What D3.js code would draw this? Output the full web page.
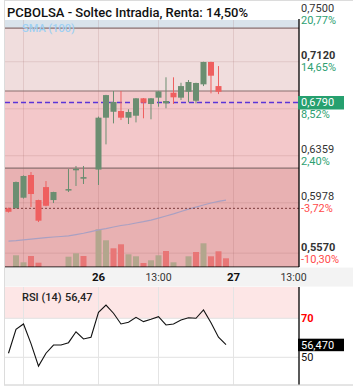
<!DOCTYPE html>
<html><head><meta charset="utf-8">
<script src="https://cdn.jsdelivr.net/npm/d3@7"></script>
<style>
html,body{margin:0;padding:0;background:#fff;}
svg{display:block;font-family:Roboto,"Noto Sans",sans-serif;}
</style></head><body>
<svg id="c" width="353" height="390"></svg>
<script>
// ---------------- DATA ----------------
const title = "PCBOLSA - Soltec Intradia, Renta: 14,50%";
const candleTimes = ["25 12:00","25 12:30","25 13:00","25 13:30","25 14:00","25 14:30","25 15:00","25 16:00","25 16:30","25 17:00",
  "26 09:00","26 09:30","26 10:00","26 10:30","26 11:00","26 11:30","26 12:00","26 12:30","26 13:00","26 13:30",
  "26 14:00","26 14:30","26 15:00","26 15:30","26 16:00","26 16:30","26 17:00","26 17:30"];
const opens  = [0.5933,0.5935,0.6019,0.6203,0.6000,0.6105,0.6000,0.6087,0.6251,0.6173,
  0.6247,0.6667,0.6715,0.6721,0.6667,0.6683,0.6824,0.6778,0.6829,0.6783,
  0.6869,0.6829,0.6877,0.6804,0.6937,0.7118,0.6923,0.6790];
const highs  = [0.5939,0.6150,0.6200,0.6227,0.6003,0.6154,0.6067,0.6251,0.6276,0.6276,
  0.6676,0.6852,0.6883,0.6883,0.6735,0.6826,0.6826,0.6826,0.6882,0.6994,
  0.6994,0.6950,0.6972,0.6950,0.7120,0.7120,0.7085,0.6790];
const lows   = [0.5899,0.5930,0.6012,0.5944,0.5822,0.5950,0.5976,0.6065,0.6114,0.6130,
  0.6122,0.6451,0.6621,0.6648,0.6616,0.6629,0.6662,0.6654,0.6756,0.6743,
  0.6778,0.6810,0.6791,0.6783,0.6923,0.6864,0.6858,0.6790];
const closes = [0.5905,0.6146,0.6195,0.6049,0.5833,0.5954,0.6065,0.6089,0.6253,0.6186,
  0.6667,0.6850,0.6794,0.6667,0.6713,0.6824,0.6788,0.6824,0.6880,0.6802,
  0.6832,0.6923,0.6956,0.6948,0.7118,0.7007,0.6877,0.6790];

const volTimes = ["25 12:30","25 13:00","25 13:30","25 14:00","25 16:00","25 16:30","25 17:00",
  "26 09:00","26 09:30","26 10:00","26 10:30","26 11:00","26 11:30","26 12:00","26 12:30","26 13:00","26 13:30","26 14:00",
  "26 15:00","26 15:30","26 16:00","26 16:30","26 17:00","26 17:30"];
const volumes = [11700,4700,11000,4300,10300,13700,11000,
  37700,26700,18700,22700,12700,10700,4000,6700,11700,16000,4700,
  10700,15000,23700,10700,15700,8700];
const volUp = [1,1,0,0,1,1,0, 1,1,0,0,1,1,0,1,1,0,1, 1,0,1,0,0,0];

const lineTimes = ["25 12:00","25 12:30","25 13:00","25 13:30","25 14:00","25 14:30","25 15:00","25 15:30","25 16:00","25 16:30","25 17:00","25 17:30",
  "26 09:00","26 09:30","26 10:00","26 10:30","26 11:00","26 11:30","26 12:00","26 12:30","26 13:00","26 13:30",
  "26 14:00","26 14:30","26 15:00","26 15:30","26 16:00","26 16:30","26 17:00","26 17:30"];
const smaValues = [0.5668,0.5672,0.5678,0.5684,0.5690,0.5696,0.5701,0.5705,0.5710,0.5720,0.5731,0.5745,
  0.5759,0.5769,0.5782,0.5794,0.5802,0.5814,0.5825,0.5838,0.5854,0.5871,
  0.5888,0.5907,0.5927,0.5943,0.5960,0.5976,0.5990,0.6000];
const rsiValues = [52.1,64.4,67.1,57.0,45.5,52.1,56.3,56.3,57.5,63.1,59.4,60.3,
  73.1,76.8,72.6,67.1,68.0,70.5,68.3,69.5,70.8,66.6,
  67.1,69.1,70.3,70.0,74.3,67.7,60.3,56.47];

const gridPrices = [0.7500,0.7120,0.6739,0.6359,0.5978,0.5570];
const gridPriceLabels = ["0,7500","0,7120","","0,6359","0,5978","0,5570"];
const gridPctLabels = ["20,77%","14,65%","8,52%","2,40%","-3,72%","-10,30%"];
const gridBold = [false,true,false,false,false,true];
const bandLevels = [0.7393,0.6883,0.6259];
const bandColors = ["#d9e3eb","#f0dddd","#f3c8ca","#e8b1b2"];
const prevClose = 0.5933;
const lastPrice = 0.6790, lastPriceLabel = "0,6790";
const rsiLevels = [70,50], rsiLevelLabels = ["70","50"];
const rsiLast = 56.47, rsiLastLabel = "56,470", rsiTitle = "RSI (14)", rsiTitleValue = "56,47";
const smaLabel = "SMA (100)";
const tickTimes = ["25 13:00","26 09:00","26 13:00","27 09:00","27 13:00"];
const tickLabels = ["","26","13:00","27","13:00"];
const tickBold = [false,true,false,true,false];

// ---------------- CHART ----------------
const svg = d3.select("#c");
const L = 5, R = 299, T = 20, B = 267;
const rT = 287, rB = 385;
function tIdx(s){const [d,hm]=s.split(" ");const [h,m]=hm.split(":").map(Number);return (+d-25)*9+h+m/60-9;}
const x = d3.scaleLinear().domain([2.7667,22.3667]).range([L,R]);
const y = d3.scaleLinear().domain([0.5458,0.7458]).range([B,T]);
const yv = d3.scaleLinear().domain([0,100000]).range([B,B-100]);
const yr = d3.scaleLinear().domain([35.8,86.05]).range([rB,rT]);

// frame
svg.append("rect").attr("x",4.5).attr("y",0.5).attr("width",360).attr("height",rB-0.5)
  .attr("fill","#fff").attr("stroke","#dcdcdc");
// title
svg.append("text").attr("x",7).attr("y",17).attr("font-size",13).attr("font-weight",500)
  .attr("fill","#111").text(title);

// bands
const bandEdges = [y.domain()[1], ...bandLevels, y.domain()[0]];
const g = svg.append("g");
bandColors.forEach((c,i)=>{
  g.append("rect").attr("x",L).attr("width",R-L)
   .attr("y",y(bandEdges[i])).attr("height",y(bandEdges[i+1])-y(bandEdges[i])).attr("fill",c);
});
// grid
gridPrices.forEach(p=>{ if(y(p)>T+1 && y(p)<B-1)
  g.append("line").attr("x1",L).attr("x2",R).attr("y1",y(p)).attr("y2",y(p))
   .attr("stroke","rgba(150,90,90,0.16)").attr("stroke-width",1);});
tickTimes.forEach(t=>{const xx=x(tIdx(t)); if(xx>L && xx<R-8)
  g.append("line").attr("x1",xx).attr("x2",xx).attr("y1",T).attr("y2",B)
   .attr("stroke","rgba(150,90,90,0.16)").attr("stroke-width",1);});
// level lines
bandLevels.forEach(p=>g.append("line").attr("x1",L).attr("x2",R).attr("y1",y(p)).attr("y2",y(p))
  .attr("stroke","#8a6f6f").attr("stroke-width",1.2));
// SMA legend
g.append("text").attr("x",22).attr("y",32).attr("font-size",11).attr("font-weight",500)
  .attr("fill","#9fd0f3").text(smaLabel);

// volume
g.selectAll(".v").data(volumes).enter().append("rect")
  .attr("x",(d,i)=>x(tIdx(volTimes[i]))-3).attr("width",6)
  .attr("y",d=>yv(d)).attr("height",d=>B-yv(d))
  .attr("fill",(d,i)=>volUp[i]?"#b3a68d":"#e87676");
// SMA
g.append("path").datum(smaValues)
  .attr("d",d3.line().x((d,i)=>x(tIdx(lineTimes[i]))).y(d=>y(d)))
  .attr("fill","none").attr("stroke","#a9a0c2").attr("stroke-width",1.2);
// prev close dotted
g.append("line").attr("x1",L).attr("x2",R).attr("y1",y(prevClose)).attr("y2",y(prevClose))
  .attr("stroke","#7d3c3c").attr("stroke-width",1).attr("stroke-dasharray","2,2");
// last price dashed
g.append("line").attr("x1",L).attr("x2",R).attr("y1",y(lastPrice)).attr("y2",y(lastPrice))
  .attr("stroke","#5b35d8").attr("stroke-width",1.3).attr("stroke-dasharray","5,3");

// candles
const cg = g.append("g");
candleTimes.forEach((t,i)=>{
  const xx = x(tIdx(t)); const up = closes[i]>=opens[i];
  const col = up?"#6b8e71":"#ef5f5f";
  if(highs[i]===lows[i]) return;
  cg.append("line").attr("x1",xx).attr("x2",xx).attr("y1",y(highs[i])).attr("y2",y(lows[i]))
    .attr("stroke",col).attr("stroke-width",1);
  const y1=y(Math.max(opens[i],closes[i])), y2=y(Math.min(opens[i],closes[i]));
  cg.append("rect").attr("x",xx-3).attr("width",6).attr("y",y1).attr("height",Math.max(1.5,y2-y1)).attr("fill",col);
});

// axes lines
svg.append("line").attr("x1",L).attr("x2",R).attr("y1",B).attr("y2",B).attr("stroke","#000").attr("stroke-width",1.2);
svg.append("line").attr("x1",R).attr("x2",R).attr("y1",T-1).attr("y2",B).attr("stroke","#000").attr("stroke-width",1.3);

// price labels
gridPrices.forEach((p,i)=>{
  if(gridPriceLabels[i]) svg.append("text").attr("x",301).attr("y",y(p)-2.5).attr("font-size",11)
    .attr("font-weight",gridBold[i]?700:400).attr("fill","#333").text(gridPriceLabels[i]);
  svg.append("text").attr("x",301).attr("y",y(p)+9.5).attr("font-size",11)
    .attr("fill",gridPctLabels[i].startsWith("-")?"#ff4a4a":"#2e9f72").text(gridPctLabels[i]);
});
svg.append("rect").attr("x",298).attr("y",y(lastPrice)-6.5).attr("width",46).attr("height",13.5).attr("fill","#26a06f");
svg.append("text").attr("x",301).attr("y",y(lastPrice)+4).attr("font-size",11).attr("fill","#fff").text(lastPriceLabel);

// x axis band
svg.append("rect").attr("x",5).attr("y",B+0.6).attr("width",348).attr("height",rT-B-1).attr("fill","#f3f3f3");
tickTimes.forEach((t,i)=>{ if(!tickLabels[i]) return;
  svg.append("text").attr("x",x(tIdx(t))).attr("y",280.5).attr("text-anchor","middle")
    .attr("font-size",tickBold[i]?11.5:10.5).attr("font-weight",tickBold[i]?700:400)
    .attr("fill",tickBold[i]?"#111":"#333").text(tickLabels[i]);
});

// RSI panel
const rg = svg.append("g");
rg.append("rect").attr("x",L).attr("y",rT).attr("width",R-L).attr("height",yr(70)-rT).attr("fill","#fde6e6");
rsiLevels.forEach(v=>rg.append("line").attr("x1",L).attr("x2",R).attr("y1",yr(v)).attr("y2",yr(v)).attr("stroke","#e2e2e2"));
tickTimes.forEach(t=>{const xx=x(tIdx(t)); if(xx>L && xx<R-8)
  rg.append("line").attr("x1",xx).attr("x2",xx).attr("y1",rT).attr("y2",rB).attr("stroke","#e4e4e4");});
rg.append("path").datum(rsiValues)
  .attr("d",d3.line().x((d,i)=>x(tIdx(lineTimes[i]))).y(d=>yr(d)))
  .attr("fill","none").attr("stroke","#111").attr("stroke-width",1.1);
rg.append("line").attr("x1",R).attr("x2",R).attr("y1",rT).attr("y2",rB).attr("stroke","#000").attr("stroke-width",1.3);
rg.append("line").attr("x1",4).attr("x2",353).attr("y1",rB).attr("y2",rB).attr("stroke","#dcdcdc");
rg.append("text").attr("x",22).attr("y",300.5).attr("font-size",11).attr("font-weight",500).attr("fill","#222").text(rsiTitle);
rg.append("text").attr("x",65).attr("y",300.5).attr("font-size",11).attr("font-weight",500).attr("fill","#222").text(rsiTitleValue);
rg.append("text").attr("x",301).attr("y",yr(70)+4).attr("font-size",11).attr("font-weight",700).attr("fill","#f00").text(rsiLevelLabels[0]);
rg.append("text").attr("x",301).attr("y",yr(50)+4).attr("font-size",11).attr("fill","#111").text(rsiLevelLabels[1]);
rg.append("rect").attr("x",298).attr("y",yr(rsiLast)-6).attr("width",46).attr("height",12.5).attr("fill","#000");
rg.append("text").attr("x",301).attr("y",yr(rsiLast)+4).attr("font-size",11).attr("fill","#fff").text(rsiLastLabel);
</script>
</body></html>
